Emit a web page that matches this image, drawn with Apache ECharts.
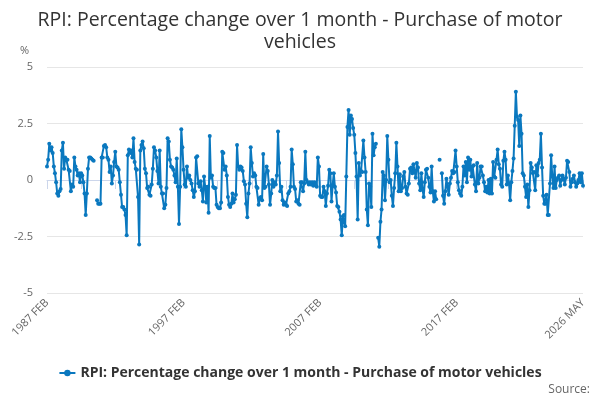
<!DOCTYPE html>
<html>
<head>
<meta charset="utf-8">
<script src="https://cdn.jsdelivr.net/npm/echarts@6/dist/echarts.min.js"></script>
<style>
html,body{margin:0;padding:0;background:#fff;}
#chart{width:600px;height:400px;}
</style>
</head>
<body>
<div id="chart"></div>
<script>
// Time axis: monthly from 1987 FEB to 2026 MAY
const startYear = 1987;
const startMonth = 1; // 0-based: FEB
const monthNames = ['JAN','FEB','MAR','APR','MAY','JUN','JUL','AUG','SEP','OCT','NOV','DEC'];
const yTicks = [-5, -2.5, 0, 2.5, 5];

// % change over 1 month, 1987 FEB - 1997 JAN
const values1987 = [
  0.6, 0.9, 1.6, 1.3, 1.45, 1.2, 0.6, 0.3, -0.1, -0.6,
  -0.7, -0.5, -0.4, 1.3, 1.65, 0.5, 1.0, 0.9, 0.9, 0.45,
  0.4, -0.5, -0.2, -0.3, 1.0, 0.6, 0.45, 0.2, 0.3, -0.1,
  0.3, 0.2, -0.1, -0.6, -1.55, -0.6, 0.5, 1.0, 1.0, 0.95,
  0.9, 0.85, null, null, -0.9, -1.05, -1.05, -1.05, 1.0, 1.0,
  1.5, 1.55, 1.45, 1.0, 0.9, 0.35, 0.6, -0.15, 0.2, 0.8,
  1.25, 0.6, 0.55, 0.45, -0.1, -0.65, -1.2, -1.2, -1.3, -1.55,
  -2.45, 1.1, 1.35, 1.2, 1.3, 1.0, 1.85, 0.8, 0.5, 0.45,
  -0.75, -2.85, 1.3, 1.55, 1.7, 1.4, 0.5, 0.3, -0.35, -0.3,
  -0.65, -0.7, -0.2, 0.5, 1.45, 1.3, 1.0, 0.4, -0.15, 1.3,
  -0.3, -0.6, -0.6, -1.25, -1.1, -0.35, 1.85, 1.7, 0.9, 0.6,
  0.55, 0.45, 0.2, -0.1, 0.95, -0.3, -1.95, -0.3, 2.25, 1.45
];
// 1997 FEB - 2007 JAN
const values1997 = [
  0.45, -0.2, -0.3, 0.6, 0.1, 0.2, 0.0, -0.15, -0.45, -0.75,
  -0.5, 1.0, 1.05, -0.15, -0.3, -0.05, -0.45, -0.95, 0.15, -0.3,
  -1.0, -0.3, -1.45, 1.95, 0.1, 0.2, -0.3, -0.35, -0.35, -1.1,
  -1.2, -1.25, -1.25, -1.0, 1.25, 1.2, 0.45, 0.6, 0.2, -0.75,
  -1.1, -1.2, -1.05, -0.6, -1.0, -0.85, -0.65, 1.55, 0.6, 0.45,
  0.6, 0.55, 0.4, -0.05, -0.2, -1.05, -1.65, -0.6, -0.15, 1.45,
  0.75, 0.15, 0.3, 0.2, -0.3, -0.35, -1.1, -0.8, -0.75, -0.9,
  1.15, -0.35, -0.3, 0.6, 0.4, -0.2, -1.1, -0.6, 0.0, -0.3,
  -0.1, -0.2, 0.2, 2.15, 0.75, -0.5, -0.3, -0.9, -1.1, -1.0,
  -1.1, -1.15, -0.6, -0.5, -0.3, 1.35, 0.7, -0.3, -0.4, -0.95,
  -0.9, -1.05, -1.1, -0.1, -0.1, -0.5, -0.15, 1.25, 0.0, -0.1,
  -0.2, -0.1, -0.2, -0.1, -0.25, -0.1, -0.2, -0.3, 1.0, 0.6
];
// 2007 FEB - 2017 JAN
const values2007 = [
  -0.7, -0.75, -0.75, -0.3, -0.5, -1.15, -0.6, -0.25, 0.45, 0.3,
  -0.95, -0.25, 0.3, -0.3, -0.55, -1.15, -1.2, -1.4, -1.75, -2.45,
  -1.6, -1.55, -2.05, 0.15, 2.35, 3.1, 2.0, 2.85, 2.7, 2.3,
  2.0, 1.2, 0.15, -1.75, 0.75, 0.2, 0.4, 0.35, 1.75, 1.0,
  0.35, -1.3, -2.0, -0.15, -0.3, -1.2, 2.05, 1.1, 1.45, 1.6,
  null, -2.55, -2.95, -1.85, -1.3, 0.35, 0.2, -0.9, 0.0, 1.95,
  0.9, -0.1, 0.0, -0.7, -1.15, -0.35, 0.3, 1.65, 0.6, -0.5,
  0.25, -0.5, -0.35, 0.15, 0.35, -0.3, -0.6, -0.65, -0.15, 0.5,
  0.55, 0.3, 0.7, 0.4, 0.1, 0.75, 0.55, -0.15, -0.45, 0.3,
  -0.4, -0.75, -0.1, 0.45, 0.5, 0.1, -0.3, -0.55, 0.6, -0.5,
  -0.95, -0.5, -0.85, null, null, 0.9, null, 0.3, -0.7, -1.05,
  -0.5, 0.05, -0.3, -0.65, -0.15, 0.1, 0.4, 0.3, 0.35, 1.3
];
// 2017 FEB - 2026 MAY
const values2017 = [
  0.6, -0.1, -0.45, -0.6, -0.7, -0.3, 0.6, 0.2, 0.8, -0.1,
  1.0, 0.45, 0.9, 0.15, 0.6, 0.65, -0.2, -0.5, 0.75, -0.15,
  0.1, 0.6, 0.6, 0.2, -0.1, -0.5, -0.3, -0.55, 0.0, -0.6,
  0.05, -0.6, 0.8, 0.15, 0.1, 0.9, 1.35, 0.7, 0.5, -0.2,
  -0.3, 0.85, 1.25, 0.9, -0.2, 0.2, -0.15, -0.9, -0.1, 0.4,
  0.95, 2.4, 3.9, 2.8, 2.65, 1.5, 2.85, 2.05, 0.3, 0.2,
  -0.3, -0.75, -0.2, -1.2, -0.45, 0.75, 0.55, 0.3, 0.35, -0.45,
  0.65, 0.2, 0.75, 0.9, 2.05, 0.55, -0.7, -1.05, -1.05, -0.65,
  -1.55, -1.55, -0.15, 1.1, 0.15, -0.35, 0.6, -0.35, 0.0, 0.1,
  0.2, -0.25, 0.0, 0.2, 0.05, -0.2, 0.1, 0.85, 0.8, 0.35,
  -0.3, -0.1, 0.05, 0.2, -0.1, -0.3, -0.15, 0.0, 0.3, -0.1,
  0.3, -0.25
];

const values = [].concat(values1987, values1997, values2007, values2017);
const categories = values.map((v, i) => {
  const m = startMonth + i;
  return (startYear + Math.floor(m / 12)) + ' ' + monthNames[m % 12];
});
const last = categories.length - 1;

const chart = echarts.init(document.getElementById('chart'), null, {renderer: 'canvas'});
const font = "'Open Sans', 'DejaVu Sans', sans-serif";
chart.setOption({
  animation: false,
  backgroundColor: '#ffffff',
  title: {
    text: 'RPI: Percentage change over 1 month - Purchase of motor\nvehicles',
    left: 'center',
    top: 4,
    textStyle: {fontFamily: font, fontSize: 19.5, fontWeight: 'normal', color: '#333333', lineHeight: 22}
  },
  legend: {
    bottom: 15,
    left: 'center',
    itemWidth: 16,
    itemHeight: 8,
    itemGap: 10,
    textStyle: {fontFamily: font, fontSize: 14, fontWeight: 'bold', color: '#333333'},
    data: ['RPI: Percentage change over 1 month - Purchase of motor vehicles']
  },
  graphic: [
    {type: 'text', left: 20, top: 45, style: {text: '%', font: "11px 'Open Sans', sans-serif", fill: '#666666'}},
    {type: 'text', right: 10, top: 384, style: {text: 'Source:', font: "12px 'Open Sans', sans-serif", fill: '#666666'}}
  ],
  grid: {left: 47, right: 17, top: 67, bottom: 107, containLabel: false},
  xAxis: {
    type: 'category',
    data: categories,
    boundaryGap: false,
    axisLine: {lineStyle: {color: '#ccd6eb', width: 1}},
    axisTick: {
      show: true, length: 9,
      lineStyle: {color: '#ccd6eb'},
      interval: (i) => i % 30 === 0 || i === last
    },
    axisLabel: {
      rotate: 45,
      fontFamily: font, fontSize: 11, color: '#666666',
      margin: 8,
      interval: (i) => i % 120 === 0 || i === last
    },
    splitLine: {show: false}
  },
  yAxis: {
    type: 'value',
    min: yTicks[0],
    max: yTicks[yTicks.length - 1],
    interval: 2.5,
    axisLine: {show: false},
    axisTick: {show: false},
    axisLabel: {fontFamily: font, fontSize: 11, color: '#666666', margin: 14},
    splitLine: {lineStyle: {color: '#e6e6e6', width: 1}}
  },
  series: [{
    name: 'RPI: Percentage change over 1 month - Purchase of motor vehicles',
    type: 'line',
    data: values,
    connectNulls: false,
    color: '#0a78bf',
    lineStyle: {width: 2, color: '#0a78bf'},
    symbol: 'circle',
    symbolSize: 4,
    showAllSymbol: true,
    itemStyle: {color: '#0a78bf'}
  }]
});
</script>
</body>
</html>
